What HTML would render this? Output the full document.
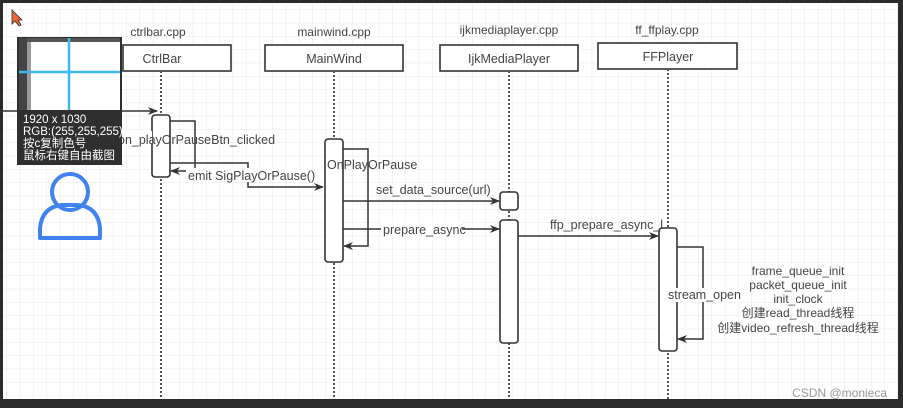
<!DOCTYPE html>
<html><head><meta charset="utf-8"><style>
html,body{margin:0;padding:0;background:#2b2b2b;}
svg{display:block;}
text{font-family:"Liberation Sans","Noto Sans CJK SC",sans-serif;fill:#444;}
</style></head><body>
<svg width="903" height="408" viewBox="0 0 903 408" xmlns="http://www.w3.org/2000/svg">
<defs>
<pattern id="g" width="13.3" height="13.3" patternUnits="userSpaceOnUse" x="7" y="10">
<path d="M13.3 0V13.3M0 13.3H13.3" stroke="#e8e8ec" stroke-width="1" fill="none"/>
</pattern>
<marker id="a" markerWidth="10" markerHeight="8" refX="9" refY="4" orient="auto" markerUnits="userSpaceOnUse">
<path d="M0,0 L10,4 L0,8 L3,4 Z" fill="#333"/>
</marker>
</defs>
<rect x="0" y="0" width="903" height="408" fill="#2b2b2b"/>
<rect x="3" y="3" width="895" height="396" fill="#fff"/>
<rect x="3" y="3" width="895" height="396" fill="url(#g)"/>

<g font-size="12" text-anchor="middle">
<text x="158" y="36">ctrlbar.cpp</text>
<text x="334" y="36">mainwind.cpp</text>
<text x="509" y="34">ijkmediaplayer.cpp</text>
<text x="667" y="34">ff_ffplay.cpp</text>
</g>
<g fill="#fff" stroke="#333" stroke-width="1.6">
<rect x="123" y="45" width="108" height="26"/>
<rect x="265" y="45" width="138" height="26"/>
<rect x="440" y="45" width="138" height="26"/>
<rect x="598" y="43" width="139" height="26"/>
</g>
<g font-size="12.5" text-anchor="middle">
<text x="162" y="63">CtrlBar</text>
<text x="334" y="63">MainWind</text>
<text x="509" y="63">IjkMediaPlayer</text>
<text x="668" y="61">FFPlayer</text>
</g>

<g stroke="#555" stroke-width="2" stroke-dasharray="2,2">
<line x1="161" y1="71" x2="161" y2="399"/>
<line x1="334" y1="71" x2="334" y2="399"/>
<line x1="509" y1="71" x2="509" y2="399"/>
<line x1="668" y1="69" x2="668" y2="399"/>
</g>

<g stroke="#333" stroke-width="1.5" fill="none">
<line x1="0" y1="111" x2="157" y2="111" marker-end="url(#a)"/>
<polyline points="170,121 195,121 195,171 171,171" marker-end="url(#a)"/>
<polyline points="170,163 248,163 248,187 323,187" marker-end="url(#a)"/>
<polyline points="343,149 368,149 368,246 344,246" marker-end="url(#a)"/>
<line x1="343" y1="201" x2="499" y2="201" marker-end="url(#a)"/>
<line x1="343" y1="229" x2="499" y2="229" marker-end="url(#a)"/>
<line x1="518" y1="236" x2="658" y2="236" marker-end="url(#a)"/>
<polyline points="677,247 703,247 703,339 678,339" marker-end="url(#a)"/>
</g>

<g fill="#fff" stroke="#333" stroke-width="1.6">
<rect x="152" y="115" width="18" height="62" rx="3"/>
<rect x="325" y="139" width="18" height="123" rx="3"/>
<rect x="500" y="192" width="18" height="18" rx="3"/>
<rect x="500" y="220" width="18" height="123" rx="3"/>
<rect x="659" y="228" width="18" height="123" rx="3"/>
</g>

<g font-size="12.5">
<rect x="120" y="131" width="32" height="13" fill="#fff"/>
<text x="118" y="144">on_playOrPauseBtn_clicked</text>
<rect x="186" y="168" width="124" height="14" fill="#fff"/>
<text x="188" y="180">emit SigPlayOrPause()</text>
<text x="327" y="169">OnPlayOrPause</text>
<text x="376" y="194">set_data_source(url)</text>
<rect x="381" y="222" width="81" height="14" fill="#fff"/>
<text x="383" y="234">prepare_async</text>
<text x="550" y="229">ffp_prepare_async_l</text>
<rect x="667" y="288" width="74" height="14" fill="#fff"/>
<text x="668" y="299">stream_open</text>
</g>
<g font-size="12" text-anchor="middle">
<text x="798" y="275">frame_queue_init</text>
<text x="798" y="289">packet_queue_init</text>
<text x="798" y="303">init_clock</text>
<text x="798" y="317">创建read_thread线程</text>
<text x="798" y="332">创建video_refresh_thread线程</text>
</g>
<text x="887" y="397" font-size="12" text-anchor="end" style="fill:#999">CSDN @monieca</text>

<rect x="17" y="37" width="105" height="128" fill="#2f2f2f"/>
<rect x="19" y="38" width="101" height="72" fill="#fff"/>
<rect x="19" y="38" width="101" height="4" fill="#555"/>
<rect x="19" y="38" width="8" height="72" fill="#444"/>
<rect x="27" y="42" width="4" height="68" fill="#999"/>
<line x1="69" y1="38" x2="69" y2="110" stroke="#3fb7f0" stroke-width="2.5"/>
<line x1="19" y1="72" x2="120" y2="72" stroke="#3fb7f0" stroke-width="2.5"/>
<g font-size="11.5">
<text x="23" y="123" style="fill:#fff">1920 x 1030</text>
<text x="23" y="135" style="fill:#fff">RGB:(255,255,255)</text>
<text x="23" y="147" style="fill:#fff">按c复制色号</text>
<text x="23" y="159" style="fill:#fff">鼠标右键自由截图</text>
</g>

<circle cx="70" cy="192" r="18" fill="none" stroke="#3f82f0" stroke-width="4"/>
<path d="M40,238 L40,228 Q42,207 62,205 L78,205 Q98,207 100,228 L100,238 Z" fill="none" stroke="#3f82f0" stroke-width="4" stroke-linejoin="round"/>

<path d="M12,10 L12,24 L15,21 L19,26 L21,25 L18,20 L22,20 Z" fill="#e63" stroke="#333" stroke-width="0.8"/>
</svg>
</body></html>
